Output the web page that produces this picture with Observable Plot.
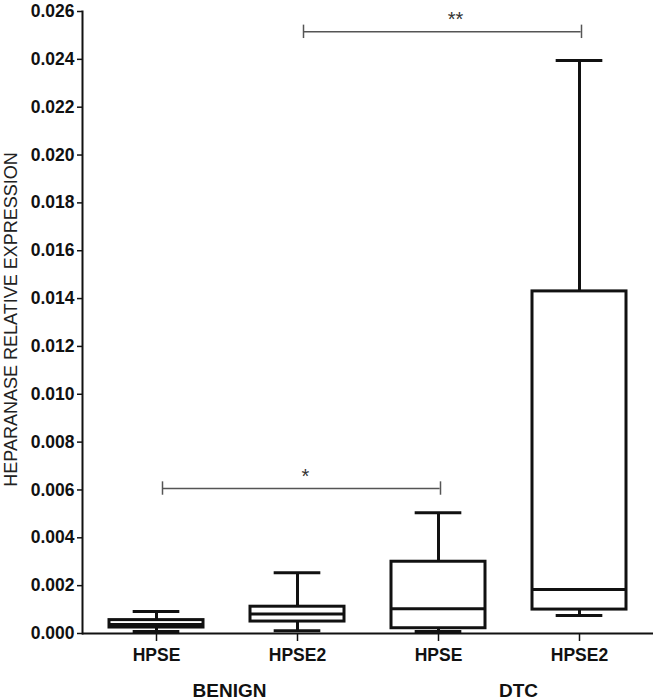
<!DOCTYPE html>
<html><head><meta charset="utf-8">
<script src="https://cdn.jsdelivr.net/npm/d3@7"></script>
<script src="https://cdn.jsdelivr.net/npm/@observablehq/plot@0.6"></script>
<style>
  body { margin: 0; background: #fff; }
  #chart svg { display: block; }
</style>
</head>
<body>
<div id="chart"></div>
<script>
// ---- data ----
const groups   = ["BENIGN", "BENIGN", "DTC", "DTC"];
const genes    = ["HPSE", "HPSE2", "HPSE", "HPSE2"];
const lows     = [0.00008, 0.00012, 0.00008, 0.00075];
const q1s      = [0.00025, 0.00050, 0.00022, 0.00100];
const medians  = [0.00038, 0.00082, 0.00103, 0.00184];
const q3s      = [0.00056, 0.00112, 0.00300, 0.01430];
const highs    = [0.00092, 0.00254, 0.00505, 0.02395];

const yTicks = [0, 0.002, 0.004, 0.006, 0.008, 0.010, 0.012, 0.014, 0.016, 0.018, 0.020, 0.022, 0.024, 0.026];
const yLabel = "HEPARANASE RELATIVE EXPRESSION";
const groupLabels = ["BENIGN", "DTC"];
const groupFirst  = ["BENIGN HPSE", "DTC HPSE"];

const bracketFrom  = ["BENIGN HPSE", "BENIGN HPSE2"];
const bracketTo    = ["DTC HPSE", "DTC HPSE2"];
const bracketLevel = [0.00606, 0.02515];
const bracketText  = ["*", "**"];

// ---- tables ----
const boxes = genes.map((g, i) => ({
  key: groups[i] + " " + g, gene: g,
  lo: lows[i], q1: q1s[i], med: medians[i], q3: q3s[i], hi: highs[i]
}));
const keys = boxes.map(d => d.key);
const brackets = bracketFrom.map((f, i) => ({from: f, to: bracketTo[i], level: bracketLevel[i], text: bracketText[i]}));
const groupRows = groupLabels.map((g, i) => ({label: g, x: groupFirst[i]}));

// ---- layout ----
const W = 653, H = 700;
const mL = 82, mR = 0, mT = 11, mB = 67;
const pInner = 0.33, pOuter = 0.185;
const step = (W - mL - mR) / (keys.length - pInner + 2 * pOuter);
const bw = step * (1 - pInner);
const capInset = bw / 4;
const bracketCap = 0.00028;
const starStyle = {x: "from", y: "level", text: "text", fontSize: 20, fontWeight: "normal", fill: "#333", lineAnchor: "bottom", dy: -6};

const chart = Plot.plot({
  width: W, height: H,
  marginLeft: mL, marginRight: mR, marginTop: mT, marginBottom: mB,
  style: {fontFamily: "'Liberation Sans', Arial, sans-serif", fontWeight: "bold", color: "#111", background: "#fff"},
  x: {type: "band", domain: keys, paddingInner: pInner, paddingOuter: pOuter, label: null},
  y: {domain: [0, 0.026], label: null},
  marks: [
    // axes
    Plot.axisY({ticks: yTicks, tickFormat: d3.format(".3f"), tickSize: 5, tickPadding: 3, fontSize: 17.5, fontWeight: "bold", label: null, strokeWidth: 1.5}),
    Plot.axisX({tickSize: 8, tickPadding: 7, fontSize: 17.5, fontWeight: "bold", label: null, tickFormat: d => d.split(" ")[1], strokeWidth: 1.5}),
    Plot.frame({anchor: "left", strokeWidth: 2}),
    Plot.ruleY([0], {strokeWidth: 2}),
    // whiskers
    Plot.ruleX(boxes, {x: "key", y1: "lo", y2: "q1", strokeWidth: 3, stroke: "#111"}),
    Plot.ruleX(boxes, {x: "key", y1: "q3", y2: "hi", strokeWidth: 3, stroke: "#111"}),
    Plot.tickY(boxes, {x: "key", y: "lo", insetLeft: capInset, insetRight: capInset, strokeWidth: 3, stroke: "#111"}),
    Plot.tickY(boxes, {x: "key", y: "hi", insetLeft: capInset, insetRight: capInset, strokeWidth: 3, stroke: "#111"}),
    // boxes
    Plot.barY(boxes, {x: "key", y1: "q1", y2: "q3", fill: "none", stroke: "#111", strokeWidth: 3}),
    Plot.tickY(boxes, {x: "key", y: "med", strokeWidth: 3, stroke: "#111"}),
    // significance brackets
    Plot.ruleY(brackets, {x1: "from", x2: "to", y: "level", insetLeft: bw / 2 + 6, insetRight: bw / 2 - 2, stroke: "#555", strokeWidth: 1.5}),
    Plot.ruleX(brackets, {x: "from", y1: d => d.level - bracketCap, y2: d => d.level + bracketCap, dx: 6, stroke: "#555", strokeWidth: 1.5}),
    Plot.ruleX(brackets, {x: "to", y1: d => d.level - bracketCap, y2: d => d.level + bracketCap, dx: 2, stroke: "#555", strokeWidth: 1.5}),
    Plot.text([brackets[0]], {...starStyle, dx: 149}),
    Plot.text([brackets[1]], {...starStyle, dx: 158}),
    // group labels
    Plot.text([groupRows[0]], {x: "x", text: "label", frameAnchor: "bottom", lineAnchor: "middle", dy: 57, dx: 73, fontSize: 19, fontWeight: "bold", fill: "#111"}),
    Plot.text([groupRows[1]], {x: "x", text: "label", frameAnchor: "bottom", lineAnchor: "middle", dy: 57, dx: 80, fontSize: 19, fontWeight: "bold", fill: "#111"}),
    // y label
    Plot.text([yLabel], {frameAnchor: "left", textAnchor: "middle", rotate: -90, dx: -71, dy: -3, fontSize: 18, fontWeight: "normal", fill: "#222"})
  ]
});
document.getElementById("chart").appendChild(chart);
</script>
</body></html>
